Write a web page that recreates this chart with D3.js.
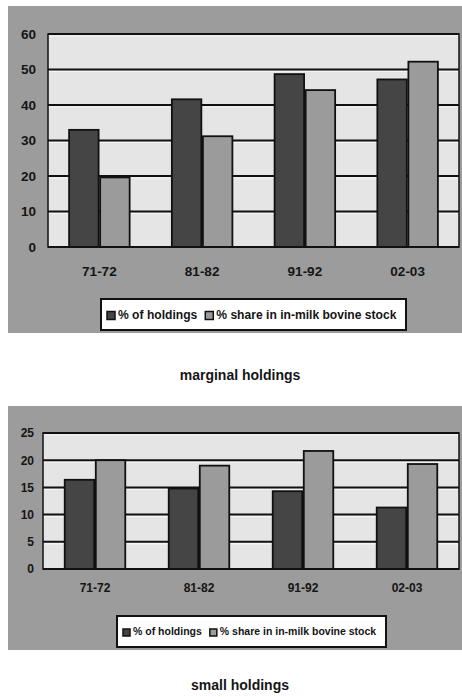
<!DOCTYPE html>
<html>
<head>
<meta charset="utf-8">
<script src="https://cdn.jsdelivr.net/npm/d3@7/dist/d3.min.js"></script>
<style>
  html, body { margin: 0; padding: 0; background: #ffffff; }
  svg { display: block; }
  text { font-family: "Liberation Sans", Arial, sans-serif; fill: #151515; }
</style>
</head>
<body>
<svg id="chart" width="462" height="697"></svg>
<script>
// Periods (agricultural census years)
const periods = ["71-72", "81-82", "91-92", "02-03"];
const seriesNames = ["% of holdings", "% share in in-milk bovine stock"];

// Marginal holdings
const marginalHoldingsPct = [33.0, 41.6, 48.7, 47.2];
const marginalStockPct = [19.6, 31.2, 44.2, 52.2];
const marginalTicks = [0, 10, 20, 30, 40, 50, 60];

// Small holdings
const smallHoldingsPct = [16.4, 14.8, 14.3, 11.3];
const smallStockPct = [20.0, 19.0, 21.7, 19.3];
const smallTicks = [0, 5, 10, 15, 20, 25];

const seriesColors = ["#454545", "#9b9b9b"];

const svg = d3.select("#chart");

function drawPanel(cfg) {
  const g = svg.append("g");
  const rows = periods.map((p, i) => ({ period: p, values: [cfg.holdings[i], cfg.stock[i]] }));

  // outer grey frame
  g.append("rect")
    .attr("x", cfg.frame[0]).attr("y", cfg.frame[1])
    .attr("width", cfg.frame[2]).attr("height", cfg.frame[3])
    .attr("fill", "#9c9c9c");

  const y = d3.scaleLinear().domain([0, d3.max(cfg.ticks)]).range([cfg.bottom, cfg.top]);
  const x = d3.scaleBand().domain(periods).range([cfg.left, cfg.right]).padding(0);
  const xs = d3.scaleBand().domain(seriesNames).range([0, x.bandwidth()])
    .paddingInner(0.05).paddingOuter(cfg.outerPad);

  // plot background
  g.append("rect")
    .attr("x", cfg.left).attr("y", cfg.top)
    .attr("width", cfg.right - cfg.left).attr("height", cfg.bottom - cfg.top)
    .attr("fill", "#e5e5e5");

  // gridlines with a light bevel underneath
  const grid = cfg.ticks.filter(t => t > 0);
  g.append("g").selectAll("line").data(grid).join("line")
    .attr("x1", cfg.left).attr("x2", cfg.right)
    .attr("y1", d => y(d) + 2).attr("y2", d => y(d) + 2)
    .attr("stroke", "#f6f6f6").attr("stroke-width", 1.2);
  g.append("g").selectAll("line").data(grid).join("line")
    .attr("x1", cfg.left).attr("x2", cfg.right)
    .attr("y1", d => y(d)).attr("y2", d => y(d))
    .attr("stroke", "#111").attr("stroke-width", 2);

  // plot border
  g.append("rect")
    .attr("x", cfg.left).attr("y", cfg.top)
    .attr("width", cfg.right - cfg.left).attr("height", cfg.bottom - cfg.top)
    .attr("fill", "none").attr("stroke", "#111").attr("stroke-width", 1.5);

  // bars
  const groups = g.append("g").selectAll("g").data(rows).join("g")
    .attr("transform", d => `translate(${x(d.period)},0)`);
  groups.selectAll("rect")
    .data(d => d.values.map((v, k) => ({ key: seriesNames[k], k, v })))
    .join("rect")
    .attr("x", d => xs(d.key))
    .attr("width", xs.bandwidth())
    .attr("y", d => y(d.v))
    .attr("height", d => y(0) - y(d.v))
    .attr("fill", d => seriesColors[d.k])
    .attr("stroke", "#111").attr("stroke-width", 1.8);

  // baseline
  g.append("line")
    .attr("x1", cfg.left).attr("x2", cfg.right)
    .attr("y1", y(0)).attr("y2", y(0))
    .attr("stroke", "#111").attr("stroke-width", 2);

  // y axis labels
  const yAxis = d3.axisLeft(y).tickValues(cfg.ticks).tickSize(0).tickPadding(cfg.yPad);
  const ya = g.append("g").attr("transform", `translate(${cfg.left},0)`).call(yAxis);
  ya.select(".domain").remove();
  ya.selectAll("text")
    .style("font-family", '"Liberation Sans", Arial, sans-serif')
    .style("font-size", cfg.tickSize + "px").style("font-weight", "bold")
    .attr("fill", "#1a1a1a");

  // x axis labels
  const xAxis = d3.axisBottom(x).tickSize(0).tickPadding(cfg.xPad);
  const xa = g.append("g").attr("transform", `translate(0,${cfg.bottom})`).call(xAxis);
  xa.select(".domain").remove();
  xa.selectAll("text")
    .style("font-family", '"Liberation Sans", Arial, sans-serif')
    .style("font-size", cfg.tickSize + "px").style("font-weight", "bold")
    .attr("fill", "#1a1a1a");

  // legend
  const lg = g.append("g");
  lg.append("rect")
    .attr("x", cfg.legend[0]).attr("y", cfg.legend[1])
    .attr("width", cfg.legend[2]).attr("height", cfg.legend[3])
    .attr("fill", "#ffffff").attr("stroke", "#111").attr("stroke-width", 2);
  const cy = cfg.legend[1] + cfg.legend[3] / 2;
  let cx = cfg.legend[0] + 6;
  seriesNames.forEach((name, k) => {
    lg.append("rect")
      .attr("x", cx).attr("y", cy - cfg.sw / 2 + 1)
      .attr("width", cfg.sw).attr("height", cfg.sw)
      .attr("fill", seriesColors[k]).attr("stroke", "#111").attr("stroke-width", 1.5);
    const t = lg.append("text")
      .attr("x", cx + cfg.sw + 3).attr("y", cy + cfg.legendSize * 0.38)
      .style("font-size", cfg.legendSize + "px").style("font-weight", "bold")
      .attr("fill", "#1a1a1a")
      .text(name);
    cx += cfg.sw + 3 + t.node().getComputedTextLength() + 8;
  });

  // caption
  g.append("text")
    .attr("x", 240).attr("y", cfg.captionY)
    .attr("text-anchor", "middle")
    .style("font-size", "14px").style("font-weight", "bold")
    .attr("fill", "#111")
    .text(cfg.caption);
}

drawPanel({
  holdings: marginalHoldingsPct, stock: marginalStockPct, ticks: marginalTicks,
  frame: [8, 6, 454, 327],
  left: 48, right: 459, top: 34, bottom: 247,
  outerPad: 0.68, yPad: 12, xPad: 19, tickSize: 13.5,
  legend: [101, 299, 305, 31], sw: 8, legendSize: 12.1,
  caption: "marginal holdings", captionY: 380
});

drawPanel({
  holdings: smallHoldingsPct, stock: smallStockPct, ticks: smallTicks,
  frame: [8, 406, 454, 244],
  left: 43, right: 459, top: 433, bottom: 569,
  outerPad: 0.7, yPad: 9, xPad: 14, tickSize: 12,
  legend: [117, 616, 269, 31], sw: 7, legendSize: 10.5,
  caption: "small holdings", captionY: 690
});
</script>
</body>
</html>
